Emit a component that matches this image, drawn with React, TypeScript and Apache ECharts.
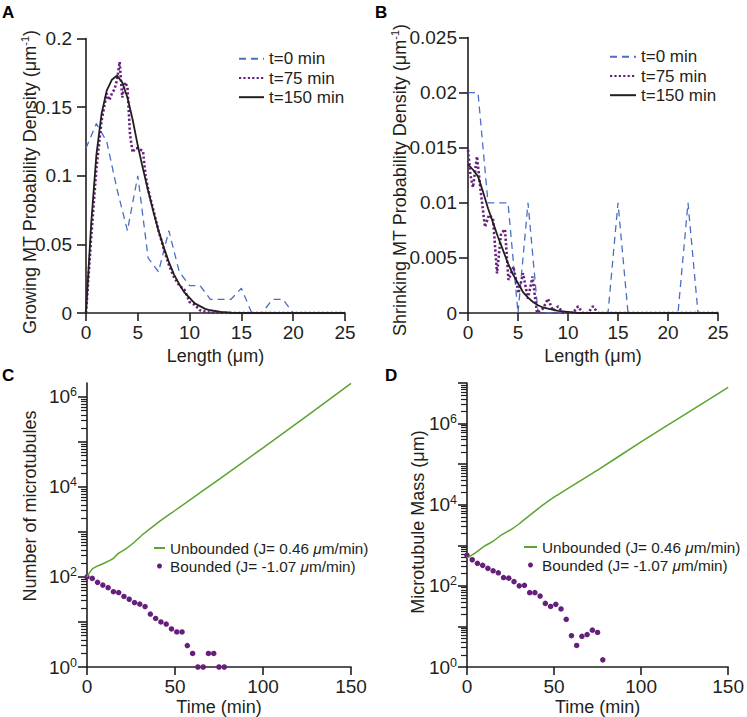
import React, { useEffect, useRef } from 'react';
import * as echarts from 'echarts';

const FONT = "'Liberation Sans', Arial, Helvetica, sans-serif";
const INK = '#231f20';
const BLUE = '#4a6fc4';
const PURPLE = '#66207c';
const GREEN = '#5aa531';

// ---------- Panel A: growing MT length distribution ----------
const lengthInt = [0, 1, 2, 3, 4, 5, 6, 7, 8, 9, 10, 11, 12, 13, 14, 15, 16, 17, 18, 19, 20, 21, 22, 23, 24, 25];
const growT0 = [0.12, 0.138, 0.125, 0.09, 0.06, 0.1, 0.04, 0.03, 0.06, 0.03, 0.02, 0.02, 0.01, 0.01, 0.01, 0.018, 0, 0, 0.01, 0.01, 0, 0, 0, 0, 0, 0];
const growT75Len = [0, 0.5, 1, 1.5, 2, 2.25, 2.5, 2.75, 3, 3.25, 3.5, 3.75, 4, 4.25, 4.5, 4.75, 5, 5.5, 5.75, 6, 6.5, 7, 7.5, 8, 8.5, 9, 9.5, 10, 10.5, 11, 11.5, 12, 25];
const growT75 = [0, 0.055, 0.105, 0.14, 0.16, 0.155, 0.16, 0.163, 0.17, 0.183, 0.157, 0.168, 0.165, 0.13, 0.117, 0.12, 0.12, 0.118, 0.1, 0.09, 0.075, 0.06, 0.047, 0.035, 0.026, 0.02, 0.017, 0.008, 0.006, 0.002, 0.001, 0, 0];
const growT150Len = [0, 0.5, 1, 1.5, 2, 2.5, 3, 3.5, 4, 4.5, 5, 5.5, 6, 6.5, 7, 7.5, 8, 8.5, 9, 9.5, 10, 10.5, 11, 11.5, 12, 13, 14, 15, 25];
const growT150 = [0, 0.065, 0.115, 0.145, 0.162, 0.17, 0.173, 0.168, 0.157, 0.141, 0.122, 0.105, 0.089, 0.074, 0.06, 0.048, 0.037, 0.028, 0.021, 0.015, 0.011, 0.007, 0.005, 0.003, 0.002, 0.0008, 0.0002, 0, 0];

// ---------- Panel B: shrinking MT length distribution ----------
const shrinkT0 = [0.02, 0.02, 0.01, 0.01, 0.01, 0, 0.01, 0, 0, 0, 0, 0, 0, 0, 0, 0.01, 0, 0, 0, 0, 0, 0, 0.01, 0, 0, 0];
const shrinkT75Len = [0, 0.25, 0.5, 0.9, 1.25, 1.7, 2.1, 2.5, 2.9, 3.3, 3.7, 4.05, 4.55, 5.05, 5.5, 6, 6.45, 6.9, 7.5, 8, 8.5, 9, 9.5, 10.5, 11, 11.5, 12, 12.5, 13, 25];
const shrinkT75 = [0.0148, 0.0125, 0.0114, 0.0142, 0.0112, 0.0078, 0.0089, 0.0086, 0.0036, 0.0072, 0.0076, 0.003, 0.0042, 0.0018, 0.0036, 0.0013, 0.0033, 0, 0.0004, 0.0013, 0.0002, 0.0006, 0, 0, 0.0006, 0, 0, 0.0006, 0, 0];
const shrinkT150Len = [0, 0.5, 1, 1.5, 2, 2.5, 3, 3.5, 4, 4.5, 5, 5.5, 6, 6.5, 7, 7.5, 8, 9, 10, 11, 25];
const shrinkT150 = [0.0135, 0.013, 0.0124, 0.011, 0.0095, 0.0082, 0.0069, 0.0057, 0.0045, 0.0035, 0.0027, 0.0019, 0.0014, 0.001, 0.0007, 0.0005, 0.0004, 0.0002, 0.0001, 0, 0];

// ---------- Panels C & D: time courses ----------
const boundedTime = [0, 3, 6, 9, 12, 15, 18, 21, 24, 27, 30, 33, 36, 39, 42, 45, 48, 51, 54, 57, 60, 63, 66, 69, 72, 75, 78];
const countBounded = [100, 93, 76, 66, 58, 47, 45, 37, 32, 27, 25, 22, 15, 12, 10, 9, 7, 6, 6, 3, 2, 1, 1, 2, 2, 1, 1];
const massBounded = [570, 440, 360, 320, 270, 235, 210, 160, 155, 127, 100, 103, 68, 68, 56, 37, 31, 35, 27, 15, 5.9, 3.4, 5.7, 6.3, 8.1, 7.1, 1.5];
const countUnboundedTime = [0, 3, 6, 10, 15, 18, 22, 27, 32, 40, 50, 75, 100, 125, 150];
const countUnbounded = [100, 150, 175, 205, 260, 340, 420, 600, 900, 1580, 3000, 14800, 74000, 380000, 2000000];
const massUnboundedTime = [0, 5, 10, 15, 20, 25, 30, 40, 50, 75, 100, 125, 150];
const massUnbounded = [480, 660, 950, 1260, 1820, 2400, 3400, 7500, 15300, 71000, 355000, 1660000, 7760000];

const densityLegend = ['t=0 min', 't=75 min', 't=150 min'];
const fluxLegend = ['Unbounded (J= 0.46 μm/min)', 'Bounded (J= -1.07 μm/min)'];
const logDecades = [0, 1, 2, 3, 4, 5, 6, 7];
const logLabelDecades = [0, 2, 4, 6];

const zip = (xs: number[], ys: number[]) => xs.map((x, i) => [x, ys[i]]);
const logPts = (xs: number[], ys: number[]) => xs.map((x, i) => [x, Math.log10(ys[i])]);

const minorLog = (max: number) => {
  const out: number[] = [];
  for (let n = 0; n < 8; n++) {
    for (let k = 2; k <= 9; k++) {
      const v = Math.log10(k) + n;
      if (v < max - 0.02) out.push(v);
    }
  }
  return out;
};

const axisLineStyle = { color: INK, width: 1.6 };
const labelStyle = { fontSize: 19, fontFamily: FONT, color: INK };

function linearX(gridIndex: number, max: number, interval: number, name: string, nameGap: number, margin: number) {
  return {
    type: 'value', gridIndex, min: 0, max, interval,
    name, nameLocation: 'middle', nameGap,
    nameTextStyle: { fontSize: 18, fontFamily: FONT, color: INK },
    axisLine: { show: true, onZero: false, lineStyle: axisLineStyle },
    axisTick: { show: true, length: 8, lineStyle: axisLineStyle },
    axisLabel: { ...labelStyle, margin },
    splitLine: { show: false },
  };
}

function linearY(gridIndex: number, max: number, interval: number, margin: number) {
  return {
    type: 'value', gridIndex, min: 0, max, interval,
    axisLine: { show: true, onZero: false, lineStyle: axisLineStyle },
    axisTick: { show: true, length: 9, lineStyle: axisLineStyle },
    axisLabel: { ...labelStyle, margin },
    splitLine: { show: false },
  };
}

function logYMain(gridIndex: number, max: number) {
  return {
    type: 'value', gridIndex, min: 0, max, position: 'left',
    axisLine: { show: true, onZero: false, lineStyle: axisLineStyle },
    axisTick: { show: true, length: 9, lineStyle: axisLineStyle, customValues: logDecades.filter((d) => d <= max) },
    axisLabel: {
      ...labelStyle, margin: 10, lineHeight: 22,
      customValues: logLabelDecades,
      formatter: (v: number) => `10{sup|${Math.round(v)}}`,
      rich: { sup: { fontSize: 12.5, lineHeight: 12, fontFamily: FONT, color: INK, verticalAlign: 'top' } },
    },
    splitLine: { show: false },
  };
}

function logYMinor(gridIndex: number, max: number) {
  return {
    type: 'value', gridIndex, min: 0, max, position: 'left',
    axisLine: { show: false },
    axisTick: { show: true, length: 6, lineStyle: { color: INK, width: 1.2 }, customValues: minorLog(max) },
    axisLabel: { show: false },
    splitLine: { show: false },
  };
}

const densityLegendCfg = (left: number, top: number, itemWidth: number) => ({
  data: densityLegend, orient: 'vertical', left, top, itemWidth, itemHeight: 10, itemGap: 0, padding: 0,
  selectedMode: false,
  itemStyle: { opacity: 0 },
  textStyle: { fontSize: 17, lineHeight: 19.2, fontFamily: FONT, color: INK },
});

const fluxLegendCfg = (left: number, top: number, itemWidth: number) => ({
  data: [{ name: fluxLegend[0], itemStyle: { opacity: 0 } }, { name: fluxLegend[1] }],
  orient: 'vertical', left, top, itemWidth, itemHeight: 5, itemGap: 0, padding: 0,
  selectedMode: false,
  formatter: (n: string) => n.replace('μ', '{it|μ}'),
  textStyle: {
    fontSize: 15.3, lineHeight: 18, fontFamily: FONT, color: INK,
    rich: { it: { fontSize: 15.3, fontStyle: 'italic', fontFamily: FONT, color: INK } },
  },
});

const yTitle = (x: number, y: number, text: string) => ({
  type: 'text', x, y, rotation: Math.PI / 2,
  style: {
    text, fontSize: 18, fontFamily: FONT, fill: INK, align: 'center', verticalAlign: 'middle', lineHeight: 22,
    rich: { sup: { fontSize: 11, lineHeight: 11, fontFamily: FONT, fill: INK, verticalAlign: 'top' } },
  },
});

const panelLetter = (x: number, y: number, text: string) => ({
  type: 'text', x, y,
  style: { text, fontSize: 17, fontWeight: 'bold', fontFamily: FONT, fill: '#000', align: 'left', verticalAlign: 'middle' },
});

export default function App() {
  const ref = useRef<HTMLDivElement>(null);

  useEffect(() => {
    if (!ref.current) return;
    const chart = echarts.init(ref.current, null, { renderer: 'svg' });
    const maxC = 6.31;
    const maxD = 7;

    const option: any = {
      animation: false,
      backgroundColor: '#ffffff',
      textStyle: { fontFamily: FONT },
      grid: [
        { left: 86, top: 38.5, width: 259, height: 274.5 },
        { left: 468, top: 37.5, width: 250, height: 275.5 },
        { left: 87, top: 383, width: 264, height: 284 },
        { left: 467, top: 383, width: 264, height: 284 },
      ],
      xAxis: [
        linearX(0, 25, 5, 'Length (μm)', 34, 10),
        linearX(1, 25, 5, 'Length (μm)', 34, 10),
        linearX(2, 150, 50, 'Time (min)', 31, 10),
        linearX(3, 150, 50, 'Time (min)', 31, 10),
      ],
      yAxis: [
        linearY(0, 0.2, 0.05, 14),
        linearY(1, 0.025, 0.005, 11),
        logYMain(2, maxC),
        logYMinor(2, maxC),
        logYMain(3, maxD),
        logYMinor(3, maxD),
      ],
      legend: [
        densityLegendCfg(238, 49.2, 25),
        densityLegendCfg(609, 47.2, 26),
        fluxLegendCfg(153, 539, 11),
        fluxLegendCfg(523, 538, 13),
      ],
      graphic: [
        panelLetter(2, 12.5, 'A'),
        panelLetter(375, 12.5, 'B'),
        panelLetter(2, 375, 'C'),
        panelLetter(385, 375, 'D'),
        yTitle(30, 182, 'Growing MT Probability Density (μm{sup|-1})'),
        yTitle(400, 180, 'Shrinking MT Probability Density (μm{sup|-1})'),
        yTitle(30, 506, 'Number of microtubules'),
        yTitle(418, 522, 'Microtubule Mass (μm)'),
      ],
      series: [
        // A
        { type: 'line', name: densityLegend[0], xAxisIndex: 0, yAxisIndex: 0, data: zip(lengthInt, growT0), symbol: 'none', z: 2,
          lineStyle: { color: BLUE, width: 1.3, type: [7, 5] }, itemStyle: { color: BLUE } },
        { type: 'line', name: densityLegend[1], xAxisIndex: 0, yAxisIndex: 0, data: zip(growT75Len, growT75), symbol: 'none', z: 3,
          lineStyle: { color: PURPLE, width: 2.6, type: [2.2, 2.2] }, itemStyle: { color: PURPLE } },
        { type: 'line', name: densityLegend[2], xAxisIndex: 0, yAxisIndex: 0, data: zip(growT150Len, growT150), symbol: 'none', z: 4,
          lineStyle: { color: INK, width: 1.8 }, itemStyle: { color: INK } },
        // B
        { type: 'line', name: densityLegend[0], xAxisIndex: 1, yAxisIndex: 1, data: zip(lengthInt, shrinkT0), symbol: 'none', z: 2,
          lineStyle: { color: BLUE, width: 1.3, type: [7, 5] }, itemStyle: { color: BLUE } },
        { type: 'line', name: densityLegend[1], xAxisIndex: 1, yAxisIndex: 1, data: zip(shrinkT75Len, shrinkT75), symbol: 'none', z: 3,
          lineStyle: { color: PURPLE, width: 2.6, type: [2.2, 2.2] }, itemStyle: { color: PURPLE } },
        { type: 'line', name: densityLegend[2], xAxisIndex: 1, yAxisIndex: 1, data: zip(shrinkT150Len, shrinkT150), symbol: 'none', z: 4,
          lineStyle: { color: INK, width: 1.8 }, itemStyle: { color: INK } },
        // C
        { type: 'line', name: fluxLegend[0], xAxisIndex: 2, yAxisIndex: 2, data: logPts(countUnboundedTime, countUnbounded), symbol: 'none', smooth: 0.2,
          lineStyle: { color: GREEN, width: 1.5 }, itemStyle: { color: GREEN } },
        { type: 'scatter', name: fluxLegend[1], xAxisIndex: 2, yAxisIndex: 2, data: logPts(boundedTime, countBounded), symbol: 'circle', symbolSize: 5.5,
          itemStyle: { color: PURPLE, opacity: 1 } },
        // D
        { type: 'line', name: fluxLegend[0], xAxisIndex: 3, yAxisIndex: 4, data: logPts(massUnboundedTime, massUnbounded), symbol: 'none', smooth: 0.2,
          lineStyle: { color: GREEN, width: 1.5 }, itemStyle: { color: GREEN } },
        { type: 'scatter', name: fluxLegend[1], xAxisIndex: 3, yAxisIndex: 4, data: logPts(boundedTime, massBounded), symbol: 'circle', symbolSize: 5.5,
          itemStyle: { color: PURPLE, opacity: 1 } },
      ],
    };

    chart.setOption(option);
    return () => chart.dispose();
  }, []);

  return <div ref={ref} style={{ position: 'absolute', left: 0, top: 0, width: 747, height: 717, background: '#fff' }} />;
}
